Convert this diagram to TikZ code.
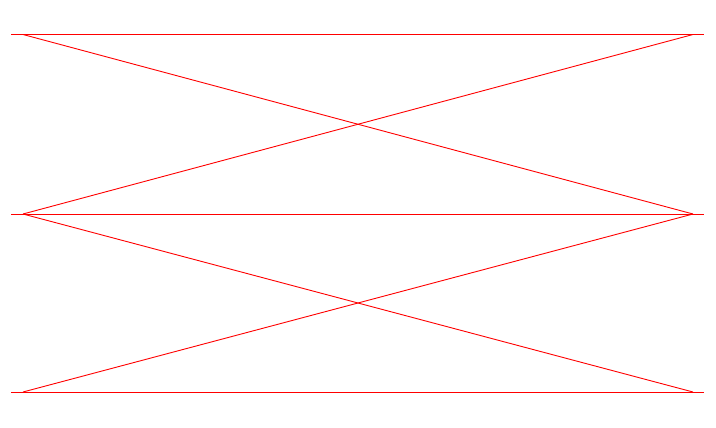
\documentclass[tikz,border=0pt]{standalone}
\begin{document}
\begin{tikzpicture}[x=1pt,y=-1pt,line/.style={draw=red,line width=0.9pt}]
\useasboundingbox (0,0) rectangle (716,428);
\coordinate (h1l) at (11,34.5);
\coordinate (h1r) at (704,34.5);
\coordinate (h2l) at (11,214);
\coordinate (h2r) at (704,214);
\coordinate (h3l) at (11,392);
\coordinate (h3r) at (704,392);
\coordinate (a1) at (23,34.5);
\coordinate (b1) at (693,34.5);
\coordinate (a2) at (23,214);
\coordinate (b2) at (693,214);
\coordinate (a3) at (23,392);
\coordinate (b3) at (693,392);
\draw[line] (h1l) -- (h1r);
\draw[line] (h2l) -- (h2r);
\draw[line] (h3l) -- (h3r);
\draw[line] (a1) -- (b2);
\draw[line] (a2) -- (b1);
\draw[line] (a2) -- (b3);
\draw[line] (a3) -- (b2);
\end{tikzpicture}
\end{document}
